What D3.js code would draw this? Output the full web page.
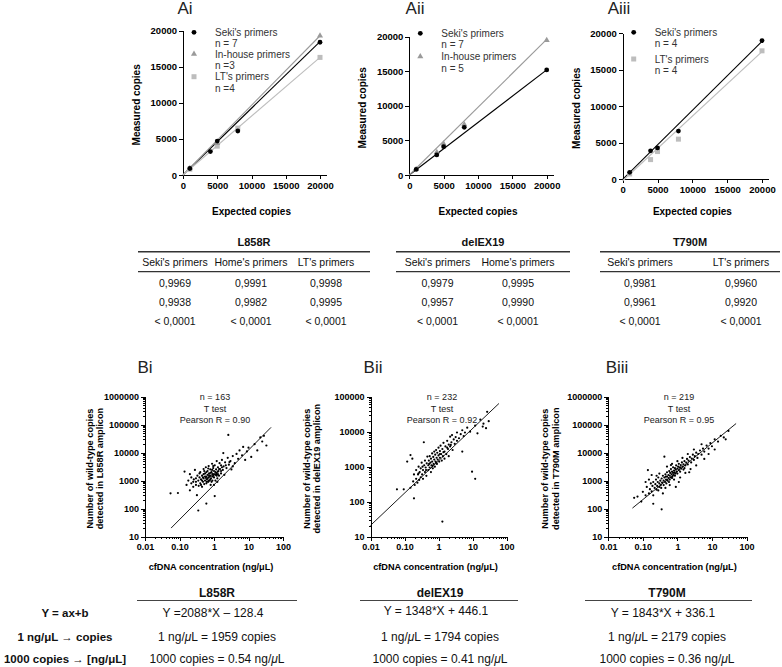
<!DOCTYPE html>
<html><head><meta charset="utf-8">
<script src="https://cdn.jsdelivr.net/npm/d3@7"></script>
<style>
body{margin:0;background:#fff;}
svg{font-family:"Liberation Sans",Arial,Helvetica,sans-serif;}
.axis path,.axis line{stroke:#000;stroke-width:1;shape-rendering:crispEdges;}
.axis text{fill:#000;font-weight:bold;}
</style></head><body>
<script>
// ---------------- DATA ----------------
const aTicks = [0, 5000, 10000, 15000, 20000];
// Ai  (L858R)
const aiSeki = [[1000,900],[4000,3250],[5000,4700],[8000,6100],[20000,18400]];
const aiInhouse = [[1000,950],[5000,4400],[20000,19300]];
const aiLT = [[1000,800],[5000,4000],[8000,6500],[20000,16300]];
const aiSekiFit = [[0,0],[20000,18500]];
const aiInhouseFit = [[0,0],[20000,19300]];
const aiLTFit = [[0,0],[20000,16300]];
// Aii (delEX19)
const aiiSeki = [[1000,800],[4000,2900],[5000,4100],[8000,6900],[20000,15200]];
const aiiInhouse = [[1000,820],[4000,3300],[5000,4500],[8000,7300],[20000,19500]];
const aiiSekiFit = [[0,0],[20000,15200]];
const aiiInhouseFit = [[0,0],[20000,19600]];
// Aiii (T790M)
const aiiiSeki = [[1000,960],[4000,3900],[5000,4300],[8000,6600],[20000,19000]];
const aiiiLT = [[1000,730],[4000,2700],[5000,3800],[8000,5500],[20000,17600]];
const aiiiSekiFit = [[0,0],[20000,18900]];
const aiiiLTFit = [[0,-200],[20000,17500]];

const tableHeaders = ["L858R","delEX19","T790M"];
const tL858Rcols = ["Seki's primers","Home's primers","LT's primers"];
const tL858Rrows = [["0,9969","0,9991","0,9998"],["0,9938","0,9982","0,9995"],["< 0,0001","< 0,0001","< 0,0001"]];
const tDelcols = ["Seki's primers","Home's primers"];
const tDelrows = [["0,9979","0,9995"],["0,9957","0,9990"],["< 0,0001","< 0,0001"]];
const tT790cols = ["Seki's primers","LT's primers"];
const tT790rows = [["0,9981","0,9960"],["0,9961","0,9920"],["< 0,0001","< 0,0001"]];

const bxTickVals = [0.01, 0.1, 1, 10, 100];
const bxTickLabels = ["0.01","0.10","1","10","100"];
const bStats = [["n = 163","T test","Pearson R =  0.90"],["n = 232","T test","Pearson R =  0.92"],["n = 219","T test","Pearson R =  0.95"]];
const bYLabels = [["Number of wild-type copies","detected in L858R amplicon"],["Number of wild-type copies","detected in delEX19 amplicon"],["Number of wild-type copies","detected in T790M amplicon"]];

// Bi points [cfDNA ng/uL, copies]
const biPoints = [[0.055,350],[0.09,360],[0.14,2100],[0.16,700],[0.18,1000],[0.2,450],[0.22,1300],[0.22,800],[0.25,600],[0.26,1100],[0.28,2400],[0.3,700],[0.3,900],[0.32,300],[0.33,1500],[0.35,1000],[0.36,650],[0.38,1300],[0.4,800],[0.4,2000],[0.42,1100],[0.45,600],[0.45,1500],[0.48,900],[0.5,2600],[0.5,1200],[0.52,750],[0.55,1000],[0.55,1800],[0.58,3000],[0.6,1400],[0.6,800],[0.62,1100],[0.65,2200],[0.65,1600],[0.68,900],[0.7,1300],[0.7,3300],[0.72,1800],[0.75,1000],[0.78,2500],[0.8,1500],[0.8,700],[0.82,1200],[0.85,2000],[0.88,4000],[0.9,1700],[0.9,1000],[0.95,2800],[1.0,1300],[1.0,2200],[1.05,280],[1.05,3500],[1.1,1600],[1.1,1000],[1.15,2500],[1.2,5000],[1.2,1900],[1.25,1200],[1.3,3000],[1.35,2200],[1.4,1500],[1.45,4200],[1.5,2600],[1.6,1800],[1.6,3500],[1.7,5500],[1.8,2400],[1.86,9600],[1.9,3200],[2.0,1600],[2.1,4500],[2.3,2800],[2.5,6500],[2.6,43000],[2.7,3700],[3.0,5000],[3.2,2500],[3.5,7500],[4.0,4200],[4.5,9000],[5,6000],[5.5,12000],[6.5,8000],[7,16000],[8,5500],[9,11000],[10,15000],[12,7000],[15,20000],[18,12000],[22,35000],[25,25000],[28,40000],[33,18000],[0.35,85],[0.6,150],[0.42,700],[0.58,1250],[0.68,2700],[0.78,1100],[0.95,1500],[1.15,1700],[1.3,2100],[0.5,1700],[0.62,900],[0.45,1000],[0.55,1400],[0.6,2000],[0.7,1000],[0.75,1400],[0.8,1900],[0.85,900],[0.9,1400],[1.0,1700],[1.1,2000],[1.2,1500],[1.3,1700],[0.65,1200],[0.72,1550],[0.88,2400],[0.38,1800],[0.52,2200],[1.4,2600],[1.6,2200],[2.2,3500],[2.8,4600],[3.5,3200],[0.48,1300],[0.3,1200],[0.25,900],[0.2,1700],[1.0,700],[1.25,900],[0.95,3300],[1.7,3000]];
const biiPoints = [[0.06,225],[0.095,225],[0.12,1400],[0.15,2150],[0.17,1700],[0.15,250],[0.19,125],[0.18,380],[0.19,600],[0.2,300],[0.22,450],[0.22,800],[0.24,350],[0.25,600],[0.26,1000],[0.27,420],[0.28,700],[0.3,500],[0.3,900],[0.32,1300],[0.33,600],[0.35,800],[0.35,450],[0.37,5000],[0.38,1100],[0.4,700],[0.4,1500],[0.42,950],[0.44,550],[0.45,1250],[0.47,1950],[0.5,800],[0.5,1100],[0.52,1500],[0.55,950],[0.55,2000],[0.58,1300],[0.6,700],[0.6,1700],[0.62,1100],[0.65,2400],[0.65,1400],[0.68,900],[0.7,1900],[0.72,1200],[0.75,2700],[0.75,1600],[0.78,1000],[0.8,2200],[0.82,1400],[0.85,3000],[0.88,1800],[0.9,1200],[0.92,2500],[0.95,1600],[1.0,3500],[1.0,2100],[1.05,1400],[1.1,2800],[1.1,1800],[1.15,4000],[1.2,2300],[1.25,1500],[1.3,27],[1.3,3200],[1.35,2000],[1.4,4800],[1.5,2700],[1.5,1700],[1.6,3800],[1.7,2300],[1.8,5500],[1.9,3200],[2.0,4300],[2.0,2000],[2.2,7200],[2.2,3800],[2.4,5000],[2.5,8000],[2.6,3000],[2.8,6000],[3.0,4500],[3.2,7000],[3.5,5500],[3.5,9500],[4.0,6500],[4.5,8500],[5.0,2700],[5.0,11000],[5.5,7500],[6.0,9500],[7.0,13000],[8.5,10000],[9.7,720],[12,450],[12,15000],[14,9000],[17,22000],[20,14000],[21,17000],[25,12600],[27,37000],[30,20000],[0.26,650],[0.34,1000],[0.43,800],[0.53,1200],[0.66,1050],[0.85,1300],[1.1,2300],[1.4,2600],[1.8,3500],[2.3,4200]];
const biiiPoints = [[0.056,245],[0.07,270],[0.09,180],[0.1,400],[0.12,300],[0.13,600],[0.14,2400],[0.15,350],[0.16,500],[0.17,800],[0.18,420],[0.19,650],[0.2,300],[0.2,900],[0.22,550],[0.23,750],[0.24,1100],[0.25,480],[0.26,650],[0.27,900],[0.28,1300],[0.3,600],[0.3,800],[0.32,1000],[0.33,700],[0.35,95],[0.35,1200],[0.36,850],[0.38,1500],[0.4,700],[0.4,1000],[0.42,7200],[0.42,1300],[0.44,900],[0.45,1700],[0.47,1100],[0.48,800],[0.5,1400],[0.5,2000],[0.52,1000],[0.55,1600],[0.55,1250],[0.58,2200],[0.6,1100],[0.6,1500],[0.62,1900],[0.65,1300],[0.65,2600],[0.68,1700],[0.7,2100],[0.72,1400],[0.75,1900],[0.75,3000],[0.78,1600],[0.8,2300],[0.82,2000],[0.85,2800],[0.88,1800],[0.9,2500],[0.92,3500],[0.95,2100],[1.0,2700],[1.0,1800],[1.05,3200],[1.1,2400],[1.1,4000],[1.15,2900],[1.2,2100],[1.25,3600],[1.3,2700],[1.35,4500],[1.4,3200],[1.5,2500],[1.5,3800],[1.6,5000],[1.7,3500],[1.8,4400],[1.9,6000],[2.0,3800],[2.1,5200],[2.3,7000],[2.5,4500],[2.6,6200],[2.8,8500],[3.0,5500],[3.2,7500],[3.5,10000],[3.8,6500],[4.0,9000],[4.5,12000],[5.0,8500],[5.5,14000],[6.0,11000],[7.0,18000],[8.0,14000],[9.0,22000],[10,17000],[12,30000],[15,25000],[18,40000],[22,35000],[30,60000],[0.9,600],[0.25,1500],[0.15,1100],[0.34,550],[0.46,1400],[0.57,900],[0.7,1250],[0.85,1500],[1.2,3000],[1.6,2800],[0.2,150],[0.28,450],[0.3,1800],[0.45,550],[0.5,3200],[0.6,700],[0.7,4000],[0.8,1100],[1.0,5000],[1.2,1300],[1.4,6500],[1.7,1900],[2.0,9000],[2.4,2600],[3,13000],[3.5,3500],[5,20000],[6,6000],[0.12,900],[0.18,1600],[0.38,350],[0.65,3600],[1.1,900],[2.2,2000],[8,9000],[12,13000],[25,30000]];
const biFit = [[0.057,20],[45,80000]];
const biiFit = [[0.01,21],[60,64000]];
const biiiFit = [[0.05,105],[50,110000]];

const eqRowLabels = ["Y = ax+b","1 ng/\u03bcL \u2192 copies","1000 copies \u2192 [ng/\u03bcL]"];
const eqEquations = ["Y =2088*X \u2013 128.4","Y = 1348*X + 446.1","Y = 1843*X + 336.1"];
const eqCopiesPerNg = ["1959","1794","2179"];
const eqNgPer1000 = ["0.54","0.41","0.36"];

// ---------------- DRAW ----------------
const W = 782, H = 667;
const svg = d3.select("body").append("svg").attr("width", W).attr("height", H);
svg.append("rect").attr("width", W).attr("height", H).attr("fill", "#fff");

const colSeki = "#000", colInhouse = "#9a9a9a", colLT = "#bdbdbd";

function drawA(cfg) {
  const x = d3.scaleLinear().domain([0, 21000]).range([cfg.x0, cfg.x20k + (cfg.x20k - cfg.x0) * 0.05]);
  const y = d3.scaleLinear().domain([0, 20000]).range([cfg.y0, cfg.y20k]);
  const g = svg.append("g");
  g.append("text").attr("x", cfg.titleX).attr("y", 14).attr("text-anchor", "middle")
    .attr("font-size", 17).attr("fill", "#222").text(cfg.title);
  const xa = g.append("g").attr("class", "axis").attr("transform", `translate(0,${cfg.y0})`)
    .call(d3.axisBottom(x).tickValues(aTicks).tickSize(4).tickSizeOuter(0).tickPadding(3).tickFormat(d3.format("d")));
  xa.selectAll("text").attr("font-size", 9.5);
  const ya = g.append("g").attr("class", "axis").attr("transform", `translate(${cfg.x0},0)`)
    .call(d3.axisLeft(y).tickValues(aTicks).tickSize(4).tickSizeOuter(0).tickPadding(2).tickFormat(d3.format("d")));
  ya.selectAll("text").attr("font-size", 9.5);
  g.append("text").attr("transform", `translate(${cfg.x0 - 43},${(cfg.y0 + cfg.y20k) / 2 + 2}) rotate(-90)`)
    .attr("text-anchor", "middle").attr("font-size", 10).attr("font-weight", "bold").text("Measured copies");
  g.append("text").attr("x", (cfg.x0 + cfg.x20k) / 2).attr("y", 215).attr("text-anchor", "middle")
    .attr("font-size", 10).attr("font-weight", "bold").text("Expected copies");
  const line = d3.line().x(d => x(d[0])).y(d => y(d[1]));
  cfg.series.forEach(s => {
    g.append("path").attr("d", line(s.fit)).attr("stroke", s.color).attr("stroke-width", 1.1).attr("fill", "none");
  });
  cfg.series.slice().reverse().forEach(s => {
    s.pts.forEach(p => drawMarker(g, s.shape, x(p[0]), y(p[1]), s.color));
  });
  // legend
  cfg.series.forEach((s, i) => {
    const ly = cfg.legY[i];
    drawMarker(g, s.shape, cfg.x0 + 11, ly, s.color);
    g.append("text").attr("x", cfg.x0 + 32).attr("y", ly + 3.5).attr("font-size", 10).attr("fill", "#333").text(s.name);
    g.append("text").attr("x", cfg.x0 + 32).attr("y", ly + 15).attr("font-size", 10).attr("fill", "#333").text(s.n);
  });
}
function drawMarker(g, shape, cx, cy, color) {
  if (shape === "circle") g.append("circle").attr("cx", cx).attr("cy", cy).attr("r", 2.4).attr("fill", color);
  else if (shape === "triangle") g.append("path").attr("d", d3.symbol().type(d3.symbolTriangle).size(16)()).attr("transform", `translate(${cx},${cy})`).attr("fill", color);
  else g.append("rect").attr("x", cx - 2.5).attr("y", cy - 2.5).attr("width", 5).attr("height", 5).attr("fill", color);
}

drawA({title: "Ai", titleX: 185, x0: 183, x20k: 320, y0: 175, y20k: 30.7, legY: [32.3, 54, 76.7],
  series: [
    {name: "Seki's primers", n: "n = 7", shape: "circle", color: colSeki, pts: aiSeki, fit: aiSekiFit},
    {name: "In-house primers", n: "n =3", shape: "triangle", color: colInhouse, pts: aiInhouse, fit: aiInhouseFit},
    {name: "LT's primers", n: "n =4", shape: "square", color: colLT, pts: aiLT, fit: aiLTFit}]});
drawA({title: "Aii", titleX: 415, x0: 409.3, x20k: 546.7, y0: 175, y20k: 36.7, legY: [33.3, 56.5],
  series: [
    {name: "Seki's primers", n: "n = 7", shape: "circle", color: colSeki, pts: aiiSeki, fit: aiiSekiFit},
    {name: "In-house primers", n: "n = 5", shape: "triangle", color: colInhouse, pts: aiiInhouse, fit: aiiInhouseFit}]});
drawA({title: "Aiii", titleX: 619, x0: 622.7, x20k: 762, y0: 179.3, y20k: 33.3, legY: [32.3, 59],
  series: [
    {name: "Seki's primers", n: "n = 4", shape: "circle", color: colSeki, pts: aiiiSeki, fit: aiiiSekiFit},
    {name: "LT's primers", n: "n = 4", shape: "square", color: colLT, pts: aiiiLT, fit: aiiiLTFit}]});

// ---- A tables ----
function drawTable(header, cols, rows, x0, x1, colX) {
  const g = svg.append("g").attr("font-size", 10.5).attr("fill", "#111");
  g.append("text").attr("x", (x0 + x1) / 2).attr("y", 245.5).attr("text-anchor", "middle").attr("font-weight", "bold").attr("font-size", 11).text(header);
  g.append("line").attr("x1", x0).attr("x2", x1).attr("y1", 251.7).attr("y2", 251.7).attr("stroke", "#333").attr("stroke-width", 1.6);
  g.append("line").attr("x1", x0).attr("x2", x1).attr("y1", 271.7).attr("y2", 271.7).attr("stroke", "#333").attr("stroke-width", 1.3);
  cols.forEach((c, i) => g.append("text").attr("x", colX[i]).attr("y", 265.5).attr("text-anchor", "middle").text(c));
  const rowY = [287, 305.5, 324.5];
  rows.forEach((r, j) => r.forEach((v, i) => g.append("text").attr("x", colX[i]).attr("y", rowY[j]).attr("text-anchor", "middle").text(v)));
}
drawTable(tableHeaders[0], tL858Rcols, tL858Rrows, 138, 370, [175, 251, 326]);
drawTable(tableHeaders[1], tDelcols, tDelrows, 396, 570, [437.5, 518]);
drawTable(tableHeaders[2], tT790cols, tT790rows, 600, 780, [640, 741]);

// ---- B panels ----
function minorTicks(lo, hi) {
  const t = [];
  for (let e = lo; e < hi; e++) for (let m = 1; m < 10; m++) t.push(m * Math.pow(10, e));
  t.push(Math.pow(10, hi));
  return t;
}
function drawB(cfg) {
  const g = svg.append("g");
  const x = d3.scaleLog().domain([0.01, 100]).range([cfg.x0, cfg.x1]);
  const y = d3.scaleLog().domain([10, cfg.ymax]).range([cfg.y0, cfg.y1]);
  g.append("text").attr("x", cfg.titleX).attr("y", 373).attr("text-anchor", "middle").attr("font-size", 17).attr("fill", "#222").text(cfg.title);
  // minor ticks
  g.append("g").attr("class", "axis").attr("transform", `translate(0,${cfg.y0})`)
    .call(d3.axisBottom(x).tickValues(minorTicks(-2, 2)).tickSize(2).tickSizeOuter(0).tickFormat(""));
  const xa = g.append("g").attr("class", "axis").attr("transform", `translate(0,${cfg.y0})`)
    .call(d3.axisBottom(x).tickValues(bxTickVals).tickSize(4).tickSizeOuter(0).tickPadding(3).tickFormat((d, i) => bxTickLabels[i]));
  xa.selectAll("text").attr("font-size", 9);
  const yDec = Math.round(Math.log10(cfg.ymax));
  g.append("g").attr("class", "axis").attr("transform", `translate(${cfg.x0},0)`)
    .call(d3.axisLeft(y).tickValues(minorTicks(1, yDec)).tickSize(2).tickSizeOuter(0).tickFormat(""));
  const yVals = d3.range(1, yDec + 1).map(e => Math.pow(10, e));
  const ya = g.append("g").attr("class", "axis").attr("transform", `translate(${cfg.x0},0)`)
    .call(d3.axisLeft(y).tickValues(yVals).tickSize(4).tickSizeOuter(0).tickPadding(2).tickFormat(d3.format("d")));
  ya.selectAll("text").attr("font-size", 9);
  // y label
  const cy = (cfg.y0 + cfg.y1) / 2 + 2;
  cfg.ylab.forEach((t, i) => {
    g.append("text").attr("transform", `translate(${cfg.labX[i]},${cy}) rotate(-90)`).attr("text-anchor", "middle")
      .attr("font-size", 9.2).attr("font-weight", "bold").text(t);
  });
  g.append("text").attr("x", (cfg.x0 + cfg.x1) / 2 - 3).attr("y", 570).attr("text-anchor", "middle")
    .attr("font-size", 9.2).attr("font-weight", "bold").text("cfDNA concentration (ng/\u03bcL)");
  cfg.stats.forEach((t, i) => g.append("text").attr("x", cfg.statX).attr("y", 400 + i * 11.5).attr("text-anchor", "middle")
    .attr("font-size", 9).attr("fill", "#222").text(t));
  g.append("path").attr("d", d3.line().x(d => x(d[0])).y(d => y(d[1]))(cfg.fit)).attr("stroke", "#000").attr("stroke-width", 0.9).attr("fill", "none");
  g.selectAll("circle.pt").data(cfg.pts).join("circle").attr("cx", d => x(d[0])).attr("cy", d => y(d[1])).attr("r", 1.1).attr("fill", "#000");
}
drawB({title: "Bi", titleX: 145, x0: 145, x1: 283, y0: 536.5, y1: 396.7, ymax: 1e6, labX: [93, 103], ylab: bYLabels[0], stats: bStats[0], statX: 215, pts: biPoints, fit: biFit});
drawB({title: "Bii", titleX: 373, x0: 370.5, x1: 506.5, y0: 536.7, y1: 396.7, ymax: 1e5, labX: [310, 320], ylab: bYLabels[1], stats: bStats[1], statX: 442, pts: biiPoints, fit: biiFit});
drawB({title: "Biii", titleX: 617, x0: 608.3, x1: 746.5, y0: 536.7, y1: 396.7, ymax: 1e6, labX: [547.5, 558.5], ylab: bYLabels[2], stats: bStats[2], statX: 679, pts: biiiPoints, fit: biiiFit});

// ---- equation table ----
const eqG = svg.append("g").attr("fill", "#111");
const rowYs = [617, 640.5, 663];
eqRowLabels.forEach((t, i) => eqG.append("text").attr("x", 65).attr("y", rowYs[i]).attr("text-anchor", "middle")
  .attr("font-size", 11.5).attr("font-weight", "bold").text(t));
const eqCols = [{x0: 137, x1: 297, cx: 217}, {x0: 360, x1: 518, cx: 440}, {x0: 585, x1: 752, cx: 667}];
eqCols.forEach((c, i) => {
  eqG.append("text").attr("x", c.cx).attr("y", 596.5).attr("text-anchor", "middle").attr("font-size", 12).attr("font-weight", "bold").text(tableHeaders[i]);
  eqG.append("line").attr("x1", c.x0).attr("x2", c.x1).attr("y1", 600.5).attr("y2", 600.5).attr("stroke", "#444").attr("stroke-width", 1.2);
  eqG.append("text").attr("x", c.cx - 4).attr("y", i === 1 ? 615 : 617).attr("text-anchor", "middle").attr("font-size", 12).text(eqEquations[i]);
  const t1 = eqG.append("text").attr("x", c.cx).attr("y", 640.5).attr("text-anchor", "middle").attr("font-size", 12);
  t1.append("tspan").text("1 ng/");
  t1.append("tspan").attr("font-style", "italic").text("\u03bc");
  t1.append("tspan").text("L = " + (i === 0 ? " " : "") + eqCopiesPerNg[i] + " copies");
  const t2 = eqG.append("text").attr("x", c.cx).attr("y", 663).attr("text-anchor", "middle").attr("font-size", 12);
  t2.append("tspan").text("1000 copies =  " + eqNgPer1000[i] + " ng/");
  t2.append("tspan").attr("font-style", "italic").text("\u03bc");
  t2.append("tspan").text("L");
});
</script>
</body></html>
